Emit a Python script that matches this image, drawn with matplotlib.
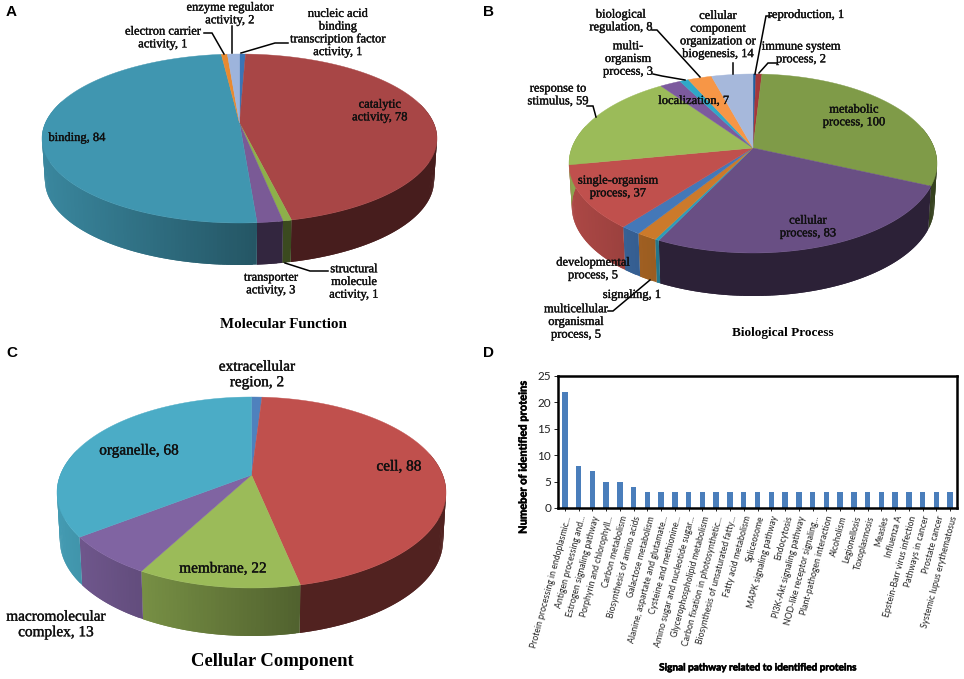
import numpy as np
import matplotlib
matplotlib.use('Agg')
import matplotlib.pyplot as plt
import matplotlib.patheffects as pe
from matplotlib.patches import Polygon

# Panel A - clockwise from 12 o'clock
mf_labels = ['nucleic acid\nbinding\ntranscription factor\nactivity, 1', 'catalytic\nactivity, 78',
             'structural\nmolecule\nactivity, 1', 'transporter\nactivity, 3', 'binding, 84',
             'electron carrier\nactivity, 1', 'enzyme regulator\nactivity, 2']
mf_values = [1, 78, 1, 3, 84, 1, 2]
mf_colors = ['#3B74B5', '#A84646', '#8DB04A', '#7A5A96', '#4096B0', '#E88A30', '#9DB4DC']
mf_pos = [(338, 33), (380, 111), (354, 282), (271, 284), (77, 138), (163, 38), (230, 14)]

# Panel B
bp_labels = ['reproduction, 1', 'immune system\nprocess, 2', 'metabolic\nprocess, 100', 'cellular\nprocess, 83',
             'signaling, 1', 'multicellular\norganismal\nprocess, 5', 'developmental\nprocess, 5',
             'single-organism\nprocess, 37', 'response to\nstimulus, 59', 'localization, 7',
             'multi-\norganism\nprocess, 3', 'biological\nregulation, 8',
             'cellular\ncomponent\norganization or\nbiogenesis, 14']
bp_values = [1, 2, 100, 83, 1, 5, 5, 37, 59, 7, 3, 8, 14]
bp_colors = ['#1F5E9E', '#A5373A', '#7F9B48', '#694F84', '#2E9DB8', '#CC7A2B', '#4478B8', '#C0504D',
             '#9BBB59', '#7C5A9E', '#2FA8C8', '#F79646', '#A6B8DB']
bp_pos = [(806, 15), (801, 53), (854, 116), (808, 227), (632, 295), (576, 322), (593, 269), (618, 187),
          (558, 95), (694, 101), (628, 59), (621, 21), (718, 35)]

# Panel C
cc_labels = ['extracellular\nregion, 2', 'cell, 88', 'membrane, 22', 'macromolecular\ncomplex, 13', 'organelle, 68']
cc_values = [2, 88, 22, 13, 68]
cc_colors = ['#4F81BD', '#C0504D', '#9BBB59', '#8064A2', '#4BACC6']
cc_pos = [(257, 375), (399, 467), (223, 569), (56, 625), (139, 451)]

# Panel D
pathways = ['Protein processing in endoplasmic...', 'Antigen processing and...', 'Estrogen signaling pathway',
            'Porphyrin and chlorophyll...', 'Carbon metabolism', 'Biosynthesis of amino acids',
            'Galactose metabolism', 'Alanine, aspartate and glutamate...', 'Cysteine and methionine...',
            'Amino sugar and nucleotide sugar...', 'Glycerophospholipid metabolism',
            'Carbon fixation in photosynthetic...', 'Biosynthesis of unsaturated fatty...', 'Fatty acid metabolism',
            'Spliceosome', 'MAPK signaling pathway', 'Endocytosis', 'PI3K-Akt signaling pathway',
            'NOD-like receptor signaling...', 'Plant-pathogen interaction', 'Alcoholism', 'Legionellosis',
            'Toxoplasmosis', 'Measles', 'Influenza A', 'Epstein-Barr virus infection', 'Pathways in cancer',
            'Prostate cancer', 'Systemic lupus erythematosus']
protein_counts = [22, 8, 7, 5, 5, 4, 3, 3, 3, 3, 3, 3, 3, 3, 3, 3, 3, 3, 3, 3, 3, 3, 3, 3, 3, 3, 3, 3, 3]

SERIF = 'Liberation Serif'
SANS = 'Lato'

fig = plt.figure(figsize=(9.64, 6.79), dpi=100)
ax = fig.add_axes([0, 0, 1, 1])
ax.set_xlim(0, 964)
ax.set_ylim(679, 0)
ax.axis('off')


def shaded(color, f):
    return tuple(c * f for c in matplotlib.colors.to_rgb(color))


def pie3d(values, colors, cx, apex_y, top, bottom, half_w, depth):
    # circle seen in perspective, so the apex sits above the middle of the ellipse
    r = (bottom - apex_y) / (apex_y - top)
    k = (r - 1) / (r + 1)
    b = (apex_y - top) * (1 + k)
    a = half_w * np.sqrt(1 - k * k)

    def project(theta):
        u, v = np.sin(theta), np.cos(theta)
        return cx + a * u / (1 + k * v), apex_y - b * v / (1 + k * v)

    edges = np.cumsum([0] + list(values)) / sum(values) * 2 * np.pi
    # side wall, overlapping strips so no seams show through
    for i, col in enumerate(colors):
        th = np.linspace(edges[i], edges[i + 1], max(3, int((edges[i + 1] - edges[i]) * 60)))
        xs, ys = project(th)
        right_slice = np.sin((edges[i] + edges[i + 1]) / 2) > 0
        for j in range(len(th) - 1):
            if np.cos(th[j]) > 0.25:
                continue
            e = min(j + 2, len(th) - 1)
            f = 0.42 if right_slice else 0.6 - 0.3 * (xs[j] - cx) / half_w
            quad = [(xs[j], ys[j]), (xs[e], ys[e]),
                    (cx + (xs[e] - cx) * 0.985, ys[e] + depth),
                    (cx + (xs[j] - cx) * 0.985, ys[j] + depth)]
            ax.add_patch(Polygon(quad, fc=shaded(col, f), ec='none', zorder=1))
    # top face
    for i, col in enumerate(colors):
        th = np.linspace(edges[i], edges[i + 1], max(3, int((edges[i + 1] - edges[i]) * 80)))
        xs, ys = project(th)
        pts = [(cx, apex_y)] + list(zip(xs, ys))
        ax.add_patch(Polygon(pts, fc=col, ec=col, lw=0.3, zorder=2))


def leader(points):
    xs, ys = zip(*points)
    ax.plot(xs, ys, color='black', lw=1.1, zorder=3, solid_joinstyle='miter')


def put_labels(labels, positions, size, spacing=1.08):
    for txt, (x, y) in zip(labels, positions):
        ax.text(x, y, txt, family=SERIF, fontsize=size, ha='center', va='center',
                linespacing=spacing, color='#101010', zorder=5,
                path_effects=[pe.withStroke(linewidth=0.25, foreground='#101010')])


pie3d(mf_values, mf_colors, 239.5, 123, 54, 223, 197.5, 42)
pie3d(bp_values, bp_colors, 753, 148, 74, 253, 184, 43)
pie3d(cc_values, cc_colors, 251.5, 475, 397, 588, 194.5, 48)

put_labels(mf_labels, mf_pos, 9)
put_labels(bp_labels, bp_pos, 9)
put_labels(cc_labels, cc_pos, 11, 1.25)

# leader lines A
leader([(204, 33), (212, 33), (224, 54)])
leader([(232, 26), (232, 53)])
leader([(288, 43), (275, 43), (241, 53)])
leader([(328, 271), (310, 271), (285, 263)])
# leader lines B
leader([(652, 30), (657, 30), (700, 77)])
leader([(733, 63), (733, 74)])
leader([(772, 16), (766, 16), (755, 74)])
leader([(777, 63), (768, 63), (759, 73)])
leader([(653, 74), (662, 76), (685, 80)])
leader([(587, 106), (593, 106), (596, 117)])
leader([(608, 311), (613, 311), (650, 280)])

ax.text(283, 325, 'Molecular Function', family=SERIF, weight='bold', fontsize=10.8, ha='center', va='center')
ax.text(783, 333, 'Biological Process', family=SERIF, weight='bold', fontsize=9.5, ha='center', va='center')
ax.text(272, 662, 'Cellular Component', family=SERIF, weight='bold', fontsize=13.4, ha='center', va='center')

for letter, x, y in [('A', 11, 12), ('B', 488, 12), ('C', 12, 353), ('D', 488, 353)]:
    ax.text(x, y, letter, family='Liberation Sans', weight='bold', fontsize=11, ha='center', va='center')

# Bar panel
bar_ax = fig.add_axes([558 / 964, 1 - 508 / 679, (957 - 558) / 964, (508 - 376) / 679])
pos = np.arange(len(pathways))
bar_ax.bar(pos, protein_counts, width=0.4, color='#4A7EBB')
bar_ax.set_xlim(-0.5, len(pathways) - 0.5)
bar_ax.set_ylim(0, 25)
bar_ax.set_yticks([0, 5, 10, 15, 20, 25])
bar_ax.tick_params(axis='y', labelsize=8.5, length=3, width=0.7, pad=2, colors='#222222')
bar_ax.set_xticks(pos)
bar_ax.set_xticklabels(pathways, rotation=75, ha='right', va='top', rotation_mode='anchor',
                       family=SANS, fontsize=6.2, color='#222222')
bar_ax.tick_params(axis='x', length=2, width=0.6, pad=3)
for label in bar_ax.get_yticklabels():
    label.set_family(SANS)
for s in bar_ax.spines.values():
    s.set_linewidth(1.8)

heavy = [pe.withStroke(linewidth=0.4, foreground='black')]
ax.text(523, 457, 'Numeber of identified proteins', family=SANS, weight='bold', fontsize=8,
        rotation=90, ha='center', va='center', path_effects=heavy)
ax.text(758, 668, 'Signal pathway related to identified proteins', family=SANS, weight='bold', fontsize=7.2,
        ha='center', va='center', path_effects=heavy)

fig.savefig('out.png', dpi=100)
